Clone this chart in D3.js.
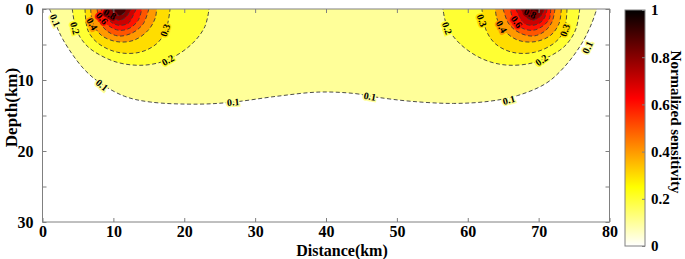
<!DOCTYPE html>
<html>
<head>
<meta charset="utf-8">
<script src="https://cdn.jsdelivr.net/npm/d3@7"></script>
<style>
  body { margin: 0; background: #fff; }
  svg text { font-family: "Liberation Serif", "Times New Roman", serif; font-weight: bold; }
</style>
</head>
<body>
<div id="chart"></div>
<script>
// contour lines: [distance km, depth km]
var c01 = [[[1.0,0],[1.8,2.0],[3.0,4.5],[5.7,8.3],[8.1,10.4],[11.6,12.3],[15.2,13.1],[22,13.4],[27,13.1],[33,12.3],[39,11.7],[44,11.9],[47,12.4],[52,13.0],[58,13.3],[63,13.0],[67,12.2],[71,10.5],[73.5,8.3],[76,5.0],[77.5,2.0],[78.2,0]]];
var c02 = [[[4.2,0],[4.7,2.7],[5.6,4.4],[7.0,5.8],[10.5,7.5],[14.5,7.9],[18.0,7.0],[21.1,4.9],[22.9,2.5],[23.5,0]],
           [[75.8,0],[75.3,2.7],[74.4,4.4],[73.0,5.8],[69.5,7.5],[65.5,7.9],[62.0,7.0],[58.9,4.9],[57.1,2.5],[56.5,0]]];
var c03 = [[[6.0,0],[6.4,3.0],[7.8,4.8],[10.6,6.1],[13.7,6.1],[16.1,4.9],[17.4,3.0],[18.0,0]],
           [[74.0,0],[73.6,3.0],[72.2,4.8],[69.4,6.1],[66.3,6.1],[63.9,4.9],[62.6,3.0],[62.0,0]]];
var c04 = [[[6.8,0],[7.1,2.0],[8.3,3.7],[10.5,4.6],[12.9,4.4],[14.9,3.0],[15.9,1.3],[16.1,0]],
           [[73.2,0],[72.9,2.0],[71.7,3.7],[69.5,4.6],[67.1,4.4],[65.1,3.0],[64.1,1.3],[63.9,0]]];
var c05 = [[[7.7,0],[8.1,1.8],[9.1,3.1],[10.7,3.8],[12.6,3.4],[14.2,2.1],[15.0,0]],
           [[72.3,0],[71.9,1.8],[70.9,3.1],[69.3,3.8],[67.4,3.4],[65.8,2.1],[65.0,0]]];
var c06 = [[[8.3,0],[8.5,1.4],[9.4,2.4],[10.8,3.0],[12.3,2.7],[13.5,1.6],[14.0,0]],
           [[71.7,0],[71.5,1.4],[70.6,2.4],[69.2,3.0],[67.7,2.7],[66.5,1.6],[66.0,0]]];
var c07 = [[[8.8,0],[9.2,1.3],[9.9,2.0],[10.9,2.3],[12.1,2.0],[12.8,0.9],[13.2,0]],
           [[71.2,0],[70.8,1.3],[70.1,2.0],[69.1,2.3],[67.9,2.0],[67.2,0.9],[66.8,0]]];
var c08 = [[[9.2,0],[9.7,1.0],[10.9,1.6],[11.9,1.0],[12.5,0]],
           [[70.8,0],[70.3,1.0],[69.1,1.6],[68.1,1.0],[67.5,0]]];
var c09 = [[[9.8,0],[10.1,0.6],[10.8,0.9],[11.5,0.6],[11.8,0]],
           [[70.2,0],[69.9,0.6],[69.2,0.9],[68.5,0.6],[68.2,0]]];

var levels = [0.1, 0.2, 0.3, 0.4, 0.5, 0.6, 0.7, 0.8, 0.9];
var contourLines = [c01, c02, c03, c04, c05, c06, c07, c08, c09];

// contour labels: text, distance, depth, angle
var labelText  = ["0.1","0.2","0.4","0.6","0.8","0.3","0.2","0.1","0.1","0.1","0.2","0.3","0.4","0.6","0.8","0.3","0.2","0.1","0.1"];
var labelX     = [1.8, 4.6, 7.0, 8.4, 9.5, 17.3, 17.7, 8.4, 26.9, 46.2, 57.1, 62.0, 64.8, 66.9, 68.8, 73.7, 70.4, 76.9, 65.8];
var labelDepth = [1.6, 2.7, 2.1, 1.3, 0.7, 3.0, 7.2, 10.7, 13.1, 12.3, 2.7, 1.6, 2.5, 1.8, 0.6, 3.0, 7.2, 5.4, 12.8];
var labelAngle = [66, 75, 60, 50, 30, -70, -30, 40, -5, 10, 70, 70, 60, 55, 25, -70, -35, -65, -15];

var xTicks = [0, 10, 20, 30, 40, 50, 60, 70, 80];
var yTicks = [0, 5, 10, 15, 20, 25, 30];
var yTickLabels = [0, 10, 20, 30];
var cbTicks = [0, 0.2, 0.4, 0.6, 0.8, 1];

var svgWidth = 685, svgHeight = 259;
var svg = d3.select("#chart").append("svg")
    .attr("width", svgWidth)
    .attr("height", svgHeight);

var xScale = d3.scaleLinear().domain([0, 80]).range([42.5, 609.5]);
var yScale = d3.scaleLinear().domain([0, 30]).range([9, 222]);

// flipped "hot" colormap
var color = d3.scaleLinear()
    .domain([0, 0.25, 0.625, 1])
    .range(["#ffffff", "#ffff00", "#ff0000", "#000000"]);

svg.append("defs").append("clipPath").attr("id", "plotClip")
  .append("rect")
    .attr("x", xScale(0)).attr("y", yScale(0))
    .attr("width", xScale(80) - xScale(0))
    .attr("height", yScale(30) - yScale(0));

var plot = svg.append("g").attr("clip-path", "url(#plotClip)");

var line = d3.line()
    .x(function(d) { return xScale(d[0]); })
    .y(function(d) { return yScale(d[1]); })
    .curve(d3.curveCatmullRom.alpha(0.5));

// filled bands
contourLines.forEach(function(rings, i) {
  rings.forEach(function(r) {
    plot.append("path")
        .attr("d", line(r) + "Z")
        .attr("fill", color(levels[i]))
        .attr("stroke", "none");
  });
});

// dashed contour lines
contourLines.forEach(function(rings) {
  rings.forEach(function(r) {
    plot.append("path")
        .attr("d", line(r))
        .attr("fill", "none")
        .attr("stroke", "#3a3a3a")
        .attr("stroke-width", 0.9)
        .attr("stroke-dasharray", "4,2.5");
  });
});

// contour labels
labelText.forEach(function(t, i) {
  var lvl = +t;
  plot.append("text")
      .attr("transform", "translate(" + xScale(labelX[i]) + "," + yScale(labelDepth[i]) + ") rotate(" + labelAngle[i] + ")")
      .attr("text-anchor", "middle")
      .attr("dy", "0.35em")
      .style("font-size", "10px")
      .style("paint-order", "stroke")
      .style("stroke", color(lvl))
      .style("stroke-width", 3)
      .style("fill", "#000")
      .text(t);
});

// frame
svg.append("rect")
    .attr("x", xScale(0)).attr("y", yScale(0))
    .attr("width", xScale(80) - xScale(0))
    .attr("height", yScale(30) - yScale(0))
    .attr("fill", "none")
    .attr("stroke", "#808080")
    .attr("stroke-width", 1);

function styleAxis(g) {
  g.select(".domain").remove();
  g.selectAll("line").attr("stroke", "#808080");
  g.selectAll("text").style("font-size", "16px").attr("fill", "#000");
}

// Eje X
svg.append("g")
    .attr("transform", "translate(0," + yScale(30) + ")")
    .call(d3.axisBottom(xScale).tickValues(xTicks).tickSize(-4).tickPadding(4).tickFormat(d3.format("d")))
    .call(styleAxis);
svg.append("g")
    .attr("transform", "translate(0," + yScale(0) + ")")
    .call(d3.axisTop(xScale).tickValues(xTicks).tickSize(-4).tickFormat(""))
    .call(styleAxis);

// Eje Y
svg.append("g")
    .attr("transform", "translate(" + xScale(0) + ",0)")
    .call(d3.axisLeft(yScale).tickValues(yTicks).tickSize(-4).tickPadding(9)
      .tickFormat(function(d) { return yTickLabels.indexOf(d) >= 0 ? d : ""; }))
    .call(styleAxis);
svg.append("g")
    .attr("transform", "translate(" + xScale(80) + ",0)")
    .call(d3.axisRight(yScale).tickValues(yTicks).tickSize(-4).tickFormat(""))
    .call(styleAxis);

// titles
svg.append("text")
    .attr("x", 342)
    .attr("y", 256)
    .attr("text-anchor", "middle")
    .style("font-size", "16px")
    .text("Distance(km)");

svg.append("text")
    .attr("transform", "translate(17," + (yScale(15) - 8) + ") rotate(-90)")
    .attr("text-anchor", "middle")
    .style("font-size", "17px")
    .text("Depth(km)");

// colorbar
var cbX = 625, cbW = 20;
var cbScale = d3.scaleLinear().domain([0, 1]).range([246, 10]);
var grad = svg.select("defs").append("linearGradient")
    .attr("id", "cbGrad")
    .attr("x1", 0).attr("y1", 1).attr("x2", 0).attr("y2", 0);
color.domain().forEach(function(v) {
  grad.append("stop").attr("offset", v).attr("stop-color", color(v));
});
svg.append("rect")
    .attr("x", cbX).attr("y", cbScale(1))
    .attr("width", cbW).attr("height", cbScale(0) - cbScale(1))
    .attr("fill", "url(#cbGrad)")
    .attr("stroke", "#808080")
    .attr("stroke-width", 1);

svg.append("g")
    .attr("transform", "translate(" + (cbX + cbW) + ",0)")
    .call(d3.axisRight(cbScale).tickValues(cbTicks).tickSize(-3).tickPadding(6)
      .tickFormat(function(d) { return d === 0 || d === 1 ? d3.format("d")(d) : d3.format(".1f")(d); }))
    .call(styleAxis)
    .selectAll("text").style("font-size", "15px");

svg.append("text")
    .attr("transform", "translate(671," + 122 + ") rotate(90)")
    .attr("text-anchor", "middle")
    .style("font-size", "15px")
    .text("Normalized sensitivity");
</script>
</body>
</html>
